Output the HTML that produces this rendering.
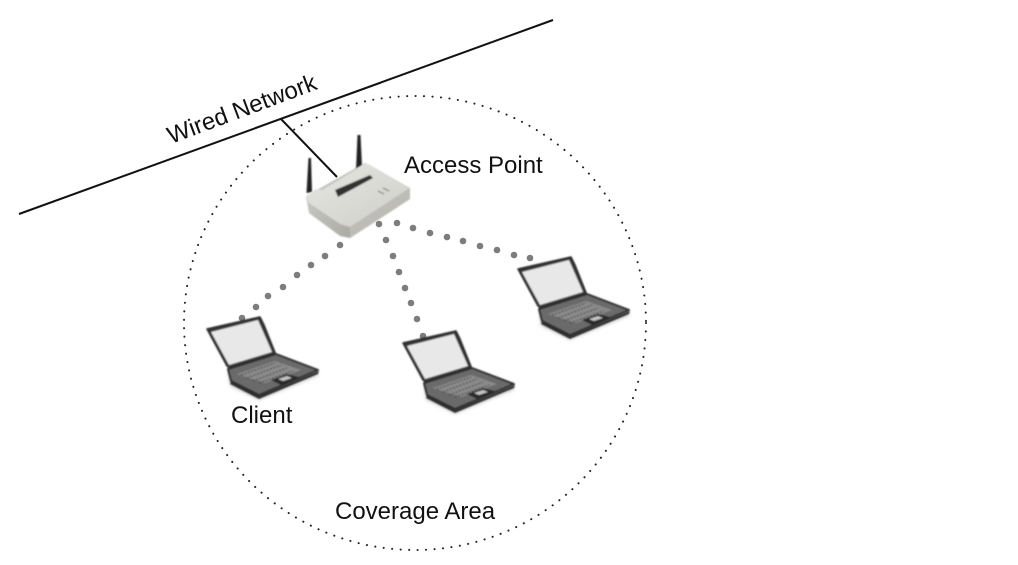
<!DOCTYPE html>
<html><head><meta charset="utf-8"><style>
html,body{margin:0;padding:0;background:#fff;width:1018px;height:565px;overflow:hidden}
svg{display:block}
text{font-family:"Liberation Sans",Arial,sans-serif;font-size:24px;fill:#111}
</style></head><body>
<svg width="1018" height="565" viewBox="0 0 1018 565" xmlns="http://www.w3.org/2000/svg">
<defs>
<filter id="b" x="-10%" y="-10%" width="120%" height="120%"><feGaussianBlur stdDeviation="0.7"/></filter>
<filter id="s" x="-20%" y="-20%" width="140%" height="140%"><feGaussianBlur stdDeviation="1.6"/></filter>
<linearGradient id="rt" x1="0" y1="0" x2="1" y2="1"><stop offset="0" stop-color="#e6e6e2"/><stop offset="1" stop-color="#cfcfc9"/></linearGradient>
<linearGradient id="rl" x1="0" y1="0" x2="1" y2="0.4"><stop offset="0" stop-color="#cfcfc9"/><stop offset="1" stop-color="#9c9c95"/></linearGradient>
<g id="laptop" filter="url(#b)">
<path d="M35 78L64 92L125 67L80 50L33 63Z" fill="#000" opacity=".18" filter="url(#s)" transform="translate(0,3)"/>
<path d="M12 24L65 12L69 20L81 50L38 65L32 61Z" fill="#353535" stroke="#2b2b2b" stroke-width="1.5" stroke-linejoin="round"/>
<path d="M16 27L63 15L77 47L34 60Z" fill="#e8e8e8"/>
<path d="M33 64L81 49L123 65L64 90L36 76Z" fill="#6a6a6a" stroke="#2a2a2a" stroke-width="2" stroke-linejoin="round"/>
<path d="M42 69L80 56L106 65L70 78Z" fill="#8a8a8a"/>
<path d="M46 70L80 58M52 73L86 60M58 76L92 63M64 78L98 66" stroke="#444" stroke-width="1.2" stroke-dasharray="2 1.5"/>
<path d="M76 75L92 69L104 72L86 80Z" fill="#2a2a2a"/>
<path d="M83 74L92 71L97 73L88 76Z" fill="#c4c4c4"/>
<path d="M36 76L64 91L124 66L123 69L64 94L35 79Z" fill="#2d2d2d"/>
</g>
</defs>
<rect width="1018" height="565" fill="#fff"/>

<ellipse cx="415" cy="323" rx="231" ry="227" fill="none" stroke="#222" stroke-width="2" stroke-linecap="round" stroke-dasharray="0.1 8.4"/>

<line x1="19" y1="214" x2="553" y2="20" stroke="#111" stroke-width="2"/>
<text transform="translate(171,144) rotate(-20.5)" font-size="24">Wired Network</text>

<!-- antennas -->
<g filter="url(#b)">
<path d="M306.5 193L308.5 158L311 158L312 192Z" fill="#222"/>
<path d="M356 170L357.5 135L360.5 135L362 166Z" fill="#222"/>
</g>
<!-- router -->
<g filter="url(#b)">
<path d="M306 196L365 163L410 188L410 199L350 238L340 236L309 213Z" fill="url(#rl)"/>
<path d="M306 196L316 189L322 190L358 168L366 163L372 166L410 188L350 227L340 224L309 203Z" fill="url(#rt)"/>
<path d="M335 190L370 175L373 178L338 197Z" fill="#333"/>
<path d="M350 227L410 188L410 199L350 238Z" fill="#bdbdb6"/>
<path d="M378 191L384 194M383 188L389 191" stroke="#7d7d77" stroke-width="1.2"/>
</g>
<line x1="281" y1="119" x2="337" y2="177" stroke="#111" stroke-width="2"/>

<!-- wireless links -->
<g fill="#7d7d7d">
<circle cx="340" cy="245" r="3.3"/><circle cx="325" cy="256" r="3.3"/><circle cx="311" cy="265" r="3.3"/><circle cx="297" cy="275" r="3.3"/><circle cx="283" cy="287" r="3.3"/><circle cx="268" cy="296" r="3.3"/><circle cx="256" cy="307" r="3.3"/><circle cx="242" cy="318" r="3.3"/>
<circle cx="386" cy="240" r="3.3"/><circle cx="393" cy="256" r="3.3"/><circle cx="399" cy="272" r="3.3"/><circle cx="405" cy="288" r="3.3"/><circle cx="411" cy="303" r="3.3"/><circle cx="417" cy="319" r="3.3"/><circle cx="423" cy="336" r="3.3"/>
<circle cx="379" cy="224" r="3.3"/><circle cx="397" cy="223" r="3.3"/><circle cx="413" cy="228" r="3.3"/><circle cx="430" cy="233" r="3.3"/><circle cx="447" cy="237" r="3.3"/><circle cx="463" cy="241" r="3.3"/><circle cx="480" cy="246" r="3.3"/><circle cx="497" cy="250" r="3.3"/><circle cx="514" cy="255" r="3.3"/><circle cx="530" cy="258" r="3.3"/>
</g>

<use href="#laptop" x="195" y="305"/>
<use href="#laptop" x="391" y="319"/>
<use href="#laptop" x="506" y="245"/>

<text x="404" y="173">Access Point</text>
<text x="231" y="423">Client</text>
<text x="335" y="519">Coverage Area</text>
</svg>
</body></html>
